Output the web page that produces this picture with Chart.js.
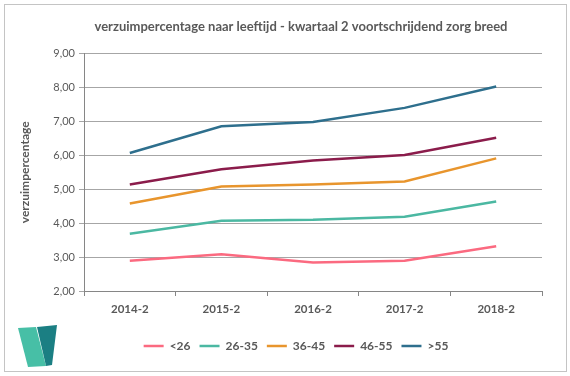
<!DOCTYPE html>
<html>
<head>
<meta charset="utf-8">
<script src="https://cdn.jsdelivr.net/npm/chart.js@4"></script>
<style>
  body { margin: 0; background: #fff; }
  #wrap { position: relative; width: 570px; height: 376px; }
  #frame { position: absolute; left: 4px; top: 4px; width: 563px; height: 368px; box-sizing: border-box; border: 1px solid #c4c4c4; }
  #logo { position: absolute; left: 17px; top: 325px; }
  canvas { position: absolute; left: 0; top: 0; }
</style>
</head>
<body>
<div id="wrap">
  <div id="frame"></div>
  <svg id="logo" width="42" height="44" viewBox="0 0 42 44">
    <polygon points="1,3 19,2 29,41 11,42" fill="#47bfa6"/>
    <polygon points="20,2 40,0 35,40 29,41" fill="#1b7f83"/>
  </svg>
  <canvas id="mychart" width="570" height="376"></canvas>
</div>
<script>
var periodes = ['2014-2', '2015-2', '2016-2', '2017-2', '2018-2'];
var groepen = ['<26', '26-35', '36-45', '46-55', '>55'];
var onder26 = [2.89, 3.08, 2.84, 2.89, 3.32];
var van26tot35 = [3.69, 4.07, 4.10, 4.19, 4.64];
var van36tot45 = [4.58, 5.08, 5.14, 5.23, 5.91];
var van46tot55 = [5.14, 5.59, 5.85, 6.01, 6.52];
var boven55 = [6.07, 6.86, 6.98, 7.40, 8.03];
var kleuren = ['#fb6a80', '#4bb8a2', '#e8952d', '#8b1c4b', '#2e6f8d'];

var grijs = '#595959';
var reeksen = [onder26, van26tot35, van36tot45, van46tot55, boven55];

var datasets = [];
for (var i = 0; i < groepen.length; i++) {
  datasets.push({
    label: groepen[i],
    data: reeksen[i],
    borderColor: kleuren[i],
    backgroundColor: kleuren[i],
    borderWidth: 2.5,
    pointRadius: 0,
    tension: 0,
    fill: false
  });
}

// titel en legenda staan in Excel iets rechts van het midden
var verschuif = {
  id: 'verschuif',
  afterLayout: function (chart) {
    chart.titleBlock.left += 21;
    chart.titleBlock.right += 21;
    chart.legend.left += 16;
    chart.legend.right += 16;
  }
};

var ctx = document.getElementById('mychart');
var myChart = new Chart(ctx, {
  type: 'line',
  data: {
    labels: periodes,
    datasets: datasets
  },
  plugins: [verschuif],
  options: {
    responsive: false,
    animation: false,
    devicePixelRatio: 1,
    layout: { padding: { left: 18, right: 28, top: 0, bottom: 14 } },
    plugins: {
      title: {
        display: true,
        text: 'verzuimpercentage naar leeftijd - kwartaal 2 voortschrijdend zorg breed',
        color: grijs,
        font: { family: 'Lato', size: 13, weight: 'bold' },
        padding: { top: 19, bottom: 19 }
      },
      legend: {
        position: 'bottom',
        labels: {
          usePointStyle: true,
          pointStyle: 'line',
          pointStyleWidth: 20,
          color: grijs,
          font: { family: 'Lato', size: 12, weight: 'bold' },
          padding: 9
        }
      },
      tooltip: { enabled: false }
    },
    scales: {
      x: {
        offset: true,
        grid: { offset: true, drawOnChartArea: false, drawTicks: true, tickLength: 5, color: '#868686' },
        border: { color: '#868686' },
        ticks: { color: grijs, font: { family: 'Lato', size: 11.5, weight: 'bold' }, padding: 6 },
        afterFit: function (s) { s.height = 40; }
      },
      y: {
        min: 2,
        max: 9,
        ticks: {
          stepSize: 1,
          color: grijs,
          font: { family: 'Lato', size: 11 },
          padding: 4,
          callback: function (v) { return v.toFixed(2).replace('.', ','); }
        },
        grid: { color: '#a6a6a6', tickLength: 5 },
        border: { color: '#868686' },
        title: {
          display: true,
          text: 'verzuimpercentage',
          color: grijs,
          font: { family: 'Lato', size: 12, weight: 'bold' },
          padding: 0
        },
        afterFit: function (s) { s.width = 66; }
      }
    }
  }
});
</script>
</body>
</html>
